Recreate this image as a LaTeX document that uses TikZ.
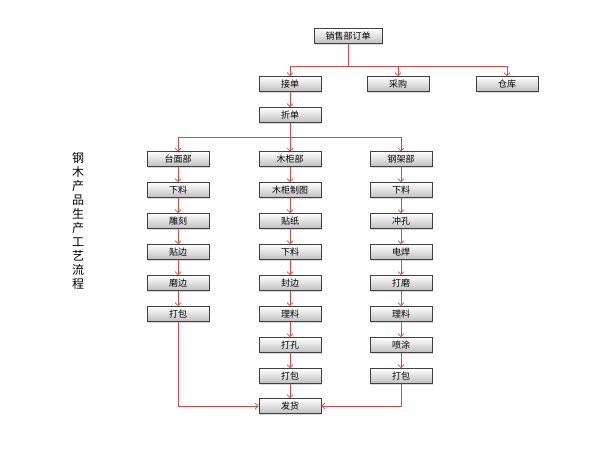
\documentclass[tikz,border=0pt]{standalone}
\usepackage{fontspec}
\newfontfamily\cjk{Noto Sans CJK SC}
\usetikzlibrary{arrows.meta,shadows}
\definecolor{lnred}{RGB}{225,70,70}
\begin{document}
\begin{tikzpicture}[x=1pt,y=-1pt,
 box/.style={draw=black!75,line width=0.8pt,top color=white,bottom color=black!25,minimum width=62pt,minimum height=15pt,inner sep=0pt,font=\cjk\fontsize{9}{10}\selectfont,drop shadow={shadow xshift=1pt,shadow yshift=-1pt,opacity=0.3}},
 ln/.style={draw=lnred,line width=0.7pt},
 ar/.style={ln,-{Straight Barb[length=3pt,width=6pt]}}]
\useasboundingbox (0,0) rectangle (600,450);
\node[box,minimum width=68pt] (top) at (348,36) {销售部订单};
\node[box] (jd) at (290,84) {接单};
\node[box] (cg) at (398,84) {采购};
\node[box] (ck) at (507,84) {仓库};
\node[box] (cd) at (290,115) {折单};
\coordinate (t1) at (348,66);
\draw[ln] (top) -- (t1);
\draw[ln] (290,66) -- (507,66);
\draw[ar] (290,66) -- (jd);
\draw[ar] (398,66) -- (cg);
\draw[ar] (507,66) -- (ck);
\draw[ar] (jd) -- (cd);
\draw[ln] (cd) -- (290,137);
\draw[ln] (178,137) -- (401,137);
\foreach \x/\n/\lst in {178/a/{台面部,下料,雕刻,贴边,磨边,打包},290/b/{木柜部,木柜制图,贴纸,下料,封边,理料,打孔,打包},401/c/{钢架部,下料,冲孔,电焊,打磨,理料,喷涂,打包}}{
 \draw[ar] (\x,137) -- (\x,151.5);
 \foreach \t [count=\i] in \lst {
   \node[box] (\n\i) at (\x,{128+31*\i}) {\t};
   \ifnum\i>1 \pgfmathtruncatemacro\j{\i-1}\draw[ar] (\n\j) -- (\n\i);\fi
 }
}
\node[box] (fh) at (290,406) {发货};
\draw[ar] (b8) -- (fh);
\draw[ar] (a6) |- (fh);
\draw[ar] (c8) |- (fh);
\node[font=\cjk\fontsize{12}{14}\selectfont,align=center,inner sep=0pt] (title) at (78,221) {钢\\木\\产\\品\\生\\产\\工\\艺\\流\\程};
\end{tikzpicture}
\end{document}
